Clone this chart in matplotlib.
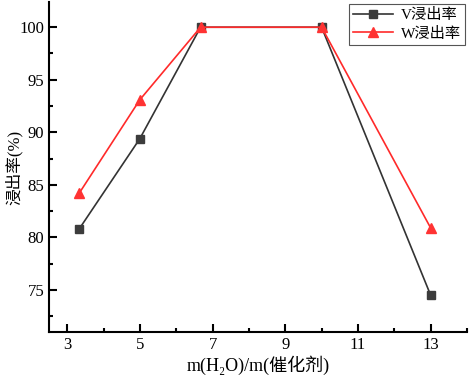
import matplotlib
matplotlib.use('Agg')
import matplotlib.pyplot as plt
from matplotlib.ticker import MultipleLocator

ratio = [3.33, 5, 6.67, 10, 13]
v_leach = [80.8, 89.4, 100, 100, 74.5]
w_leach = [84.2, 93.1, 100, 100, 80.9]

plt.rcParams['font.family'] = ['Liberation Serif', 'Noto Sans CJK SC', 'DejaVu Serif']

fig = plt.figure(figsize=(4.71, 3.75), dpi=100)
ax = fig.add_axes([49 / 471, 43 / 375, 418 / 471, 330 / 375])

ax.plot(ratio, v_leach, color='#333333', lw=1.2, marker='s', ms=6,
        markerfacecolor='#3c3c3c', markeredgecolor='#3c3c3c', label='V浸出率')
ax.plot(ratio, w_leach, color='#ff2a2a', lw=1.2, marker='^', ms=7,
        markerfacecolor='#ff3333', markeredgecolor='#ff3333', label='W浸出率')

ax.set_xlim(2.5, 14)
ax.set_ylim(71, 102.4)
ax.xaxis.set_minor_locator(MultipleLocator(1))
ax.yaxis.set_major_locator(MultipleLocator(5))
ax.yaxis.set_minor_locator(MultipleLocator(2.5))
ax.set_xticks([3, 5, 7, 9, 11, 13])

for s in ['top', 'right']:
    ax.spines[s].set_visible(False)
for s in ['left', 'bottom']:
    ax.spines[s].set_linewidth(1.5)

ax.tick_params(which='major', direction='in', length=6, width=1.5, labelsize=12)
ax.tick_params(which='minor', direction='in', length=3, width=1.5)

ax.set_xlabel('m(H₂O)/m(催化剂)', fontsize=13, labelpad=2)
ax.set_ylabel('浸出率(%)', fontsize=12)
ax.yaxis.set_label_coords(-0.063, 0.5)

leg = ax.legend(loc='upper right', fontsize=11, frameon=True, fancybox=False,
                edgecolor='#555555', framealpha=1, handlelength=2.6,
                handletextpad=0.5, borderpad=0.3, labelspacing=0.3,
                borderaxespad=0.1)
leg.get_frame().set_linewidth(0.8)

fig.savefig('out.png', dpi=100)
